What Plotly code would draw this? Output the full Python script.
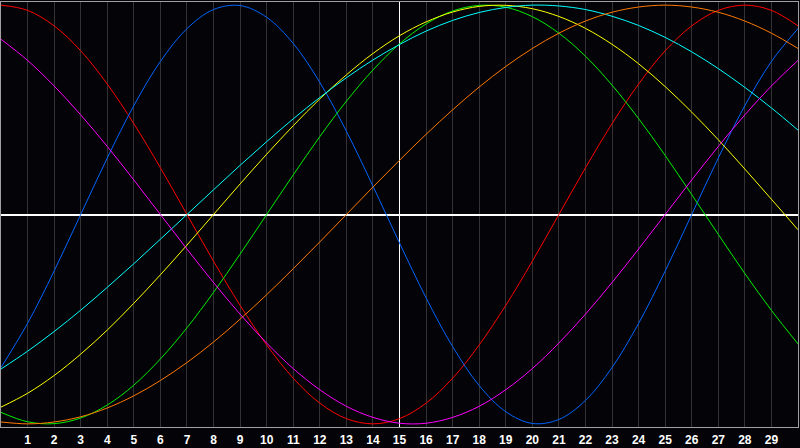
import plotly.graph_objects as go

# Day index along the x axis (0 = left edge, 30 = right edge)
days = list(range(0, 31))
tick_days = list(range(1, 30))
tick_labels = [str(d) for d in tick_days]
marker_day = 15

# Curve values (range -1 .. 1)
red = [1, 0.975, 0.901, 0.782, 0.623, 0.434, 0.223, 0, -0.223, -0.434, -0.623, -0.782, -0.901, -0.975, -1,
       -0.975, -0.901, -0.782, -0.623, -0.434, -0.223, 0, 0.223, 0.434, 0.623, 0.782, 0.901, 0.975, 1, 0.975, 0.901]
blue = [-0.731, -0.52, -0.27, 0, 0.27, 0.52, 0.731, 0.888, 0.979, 0.998, 0.942, 0.817, 0.631, 0.398, 0.136,
        -0.136, -0.398, -0.631, -0.817, -0.942, -0.998, -0.979, -0.888, -0.731, -0.52, -0.27, 0, 0.27, 0.52, 0.731, 0.888]
green = [-0.945, -0.99, -0.999, -0.972, -0.91, -0.815, -0.69, -0.541, -0.372, -0.189, 0, 0.189, 0.372, 0.541, 0.69,
         0.815, 0.91, 0.972, 0.999, 0.99, 0.945, 0.866, 0.756, 0.618, 0.458, 0.282, 0.095, -0.095, -0.282, -0.458, -0.618]
yellow = [-0.92, -0.854, -0.769, -0.667, -0.552, -0.424, -0.288, -0.146, 0, 0.146, 0.288, 0.424, 0.552, 0.667, 0.769,
          0.854, 0.92, 0.967, 0.994, 0.999, 0.983, 0.946, 0.889, 0.813, 0.72, 0.611, 0.489, 0.357, 0.217, 0.073, -0.073]
cyan = [-0.738, -0.653, -0.559, -0.457, -0.348, -0.235, -0.118, 0, 0.118, 0.235, 0.348, 0.457, 0.559, 0.653, 0.738,
        0.812, 0.876, 0.927, 0.965, 0.989, 1, 0.996, 0.979, 0.947, 0.903, 0.846, 0.777, 0.697, 0.607, 0.509, 0.403]
orange = [-0.991, -1, -0.991, -0.966, -0.924, -0.866, -0.793, -0.707, -0.609, -0.5, -0.383, -0.259, -0.131, 0, 0.131,
          0.259, 0.383, 0.5, 0.609, 0.707, 0.793, 0.866, 0.924, 0.966, 0.991, 1, 0.991, 0.966, 0.924, 0.866, 0.793]
magenta = [0.837, 0.736, 0.614, 0.476, 0.325, 0.165, 0, -0.165, -0.325, -0.476, -0.614, -0.736, -0.837, -0.916, -0.969,
           -0.997, -0.997, -0.969, -0.916, -0.837, -0.736, -0.614, -0.476, -0.325, -0.165, 0, 0.165, 0.325, 0.476, 0.614, 0.736]

series = [
    ("red", red, "#ff0000"),
    ("blue", blue, "#0064ff"),
    ("green", green, "#00f000"),
    ("yellow", yellow, "#ffff00"),
    ("cyan", cyan, "#00ffff"),
    ("orange", orange, "#ff7800"),
    ("magenta", magenta, "#ff00ff"),
]

bg = "#040408"
fig = go.Figure()
# empty helper trace so the overlay axis (used for the crisp "today" line) is drawn
fig.add_trace(go.Scatter(x=[], y=[], xaxis="x2", yaxis="y", mode="lines", hoverinfo="skip"))
for name, vals, col in series:
    fig.add_trace(go.Scatter(x=days, y=vals, mode="lines", name=name,
                             line=dict(color=col, width=1, shape="spline", smoothing=1.0),
                             hoverinfo="skip"))

fig.update_layout(
    width=800, height=448,
    paper_bgcolor=bg, plot_bgcolor=bg,
    margin=dict(l=1, r=1, t=1, b=20),
    showlegend=False,
    xaxis=dict(range=[0, 30], tickmode="array", tickvals=tick_days, ticktext=tick_labels,
               showgrid=True, gridcolor="#333336", gridwidth=1, ticks="", ticklabelstandoff=2,
               tickfont=dict(family="Liberation Sans", size=12, color="#ffffff", weight="bold"),
               showline=True, linecolor="#a0a0a0", linewidth=1, mirror=True, zeroline=False,
               fixedrange=True),
    xaxis2=dict(overlaying="x", range=[0 - marker_day, 30 - marker_day], showgrid=False,
                showticklabels=False, ticks="", showline=False,
                zeroline=True, zerolinecolor="#ffffff", zerolinewidth=1, fixedrange=True),
    yaxis=dict(range=[-1.015, 1.015], showgrid=False, showticklabels=False, ticks="",
               zeroline=True, zerolinecolor="#ffffff", zerolinewidth=1.5,
               showline=True, linecolor="#a0a0a0", linewidth=1, mirror=True, fixedrange=True),
)

fig.write_html("out.html", config={"displayModeBar": False},
               post_script="document.body.style.margin='0';document.body.style.padding='0';"
                           "document.body.style.background='#040408';")
